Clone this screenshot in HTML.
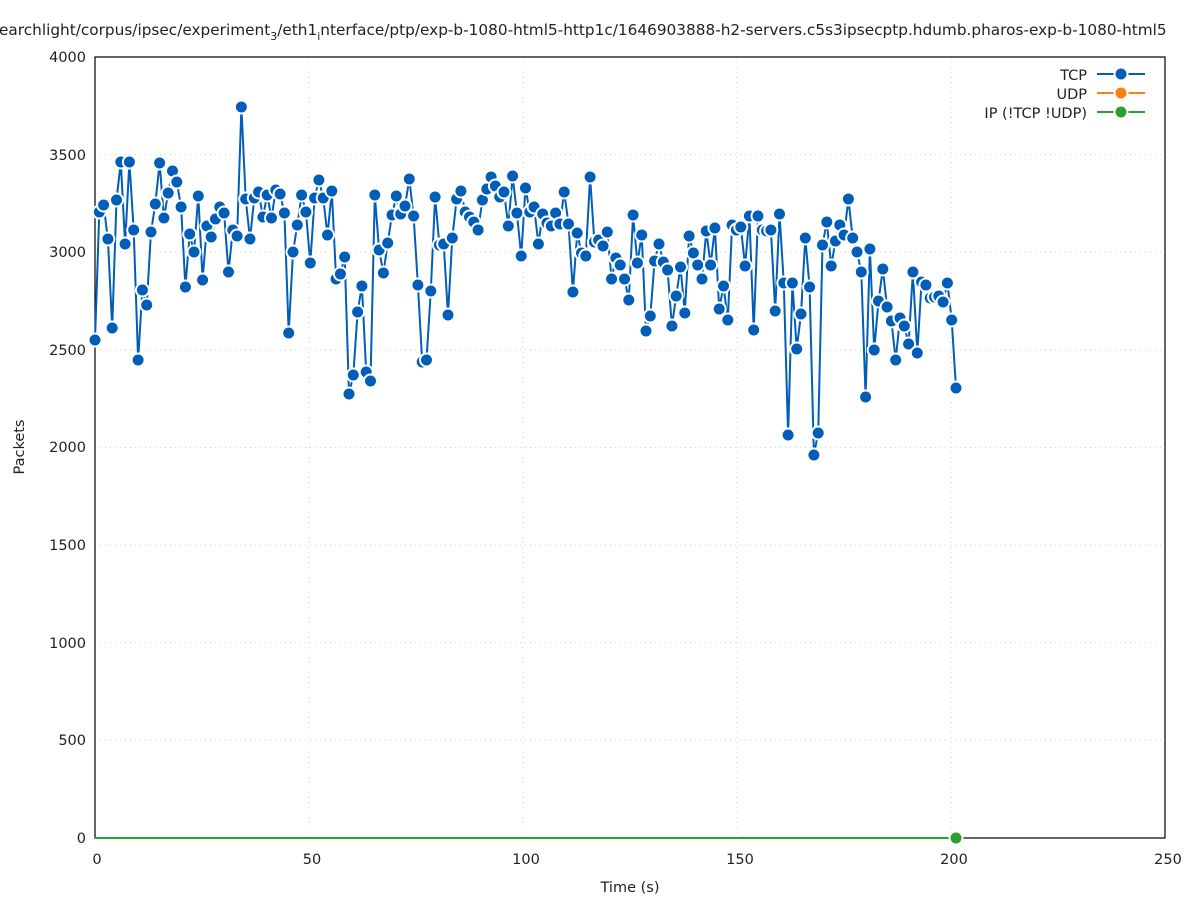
<!DOCTYPE html>
<html><head><meta charset="utf-8"><style>
body{margin:0;background:#fff;width:1197px;height:900px;overflow:hidden}
svg text{font-family:"DejaVu Sans","Liberation Sans",sans-serif;font-size:14.5px;fill:#222}
</style></head><body>
<svg id="s" width="1197" height="900" viewBox="0 0 1197 900" xmlns="http://www.w3.org/2000/svg">
<g stroke="#d0d0d0" stroke-dasharray="1,4" stroke-width="1">
<line x1="309" y1="57" x2="309" y2="838"/><line x1="523" y1="57" x2="523" y2="838"/><line x1="737" y1="57" x2="737" y2="838"/><line x1="951" y1="57" x2="951" y2="838"/>
<line x1="95" y1="740.4" x2="1165" y2="740.4"/><line x1="95" y1="642.8" x2="1165" y2="642.8"/><line x1="95" y1="545.1" x2="1165" y2="545.1"/><line x1="95" y1="447.5" x2="1165" y2="447.5"/><line x1="95" y1="349.9" x2="1165" y2="349.9"/><line x1="95" y1="252.3" x2="1165" y2="252.3"/><line x1="95" y1="154.6" x2="1165" y2="154.6"/>
</g>
<rect x="95" y="57" width="1070" height="781" fill="none" stroke="#000" stroke-width="1.2"/>
<g text-anchor="end">
<text x="86" y="843">0</text><text x="86" y="745">500</text><text x="86" y="648">1000</text><text x="86" y="550">1500</text><text x="86" y="452">2000</text><text x="86" y="355">2500</text><text x="86" y="257">3000</text><text x="86" y="160">3500</text><text x="86" y="62">4000</text>
</g>
<g text-anchor="middle">
<text x="97" y="864">0</text><text x="312" y="864">50</text><text x="526" y="864">100</text><text x="740" y="864">150</text><text x="954" y="864">200</text><text x="1168" y="864">250</text>
<text x="630" y="892">Time (s)</text>
</g>
<text x="24" y="447" text-anchor="middle" transform="rotate(-90 24 447)">Packets</text>
<text x="-9" y="35" style="font-size:15.3px">searchlight/corpus/ipsec/experiment<tspan font-size="11" dy="5">3</tspan><tspan dy="-5">/eth1</tspan><tspan font-size="11" dy="5">i</tspan><tspan dy="-5">nterface/ptp/exp-b-1080-html5-http1c/1646903888-h2-servers.c5s3ipsecptp.hdumb.pharos-exp-b-1080-html5</tspan></text>
<g text-anchor="end"><text x="1087" y="80">TCP</text><text x="1087" y="99">UDP</text><text x="1087" y="118">IP (!TCP  !UDP)</text></g>
<g stroke-width="2">
<line x1="1097" y1="74" x2="1145" y2="74" stroke="#005eb8"/><line x1="1097" y1="93" x2="1145" y2="93" stroke="#ff7f0e"/><line x1="1097" y1="112" x2="1145" y2="112" stroke="#2ca02c"/>
</g>
<g stroke="#fff" stroke-width="2">
<circle cx="1121" cy="74" r="6.5" fill="#005eb8"/><circle cx="1121" cy="93" r="6.5" fill="#ff7f0e"/><circle cx="1121" cy="112" r="6.5" fill="#2ca02c"/>
</g>
<line x1="95" y1="838" x2="956" y2="838" stroke="#ff7f0e" stroke-width="2"/>
<line x1="95" y1="838" x2="956" y2="838" stroke="#2ca02c" stroke-width="2"/>
<g id="tcp"></g>
<circle cx="956" cy="838" r="6.5" fill="#2ca02c" stroke="#fff" stroke-width="2"/>
</svg>
<script>
var y=[340,212,205,239,328,200,162,244,162,230,360,290,305,232,204,163,218,193,171,182,207,287,234,252,196,280,226,237,219,207,213,272,230,236,107,199,239,198,192,217,195,218,190,194,213,333,252,225,195,212,263,198,180,198,235,191,279,274,257,394,375,312,286,372,381,195,250,273,243,215,196,214,206,179,216,285,362,360,291,197,245,244,315,238,199,191,212,217,222,230,200,189,177,186,197,192,226,176,213,256,188,212,207,244,214,223,226,213,224,192,224,292,233,253,256,177,242,240,246,232,279,258,265,279,300,215,263,235,331,316,261,244,262,270,326,296,267,313,236,253,265,279,231,265,228,309,286,320,225,230,227,266,216,330,216,230,231,230,311,214,283,435,283,349,314,238,287,455,433,245,222,266,241,225,235,199,238,252,272,397,249,350,301,269,307,321,360,318,326,344,272,353,282,285,298,297,296,302,283,320,388];
var g=document.getElementById('tcp'),ns='http://www.w3.org/2000/svg',pts=[],dx=(956-95)/200;
for(var i=0;i<y.length;i++)pts.push((95+dx*i).toFixed(1)+','+y[i]);
var pl=document.createElementNS(ns,'polyline');pl.setAttribute('points',pts.join(' '));pl.setAttribute('fill','none');pl.setAttribute('stroke','#005eb8');pl.setAttribute('stroke-width','2');g.appendChild(pl);
for(var i=0;i<y.length;i++){var c=document.createElementNS(ns,'circle');c.setAttribute('cx',(95+dx*i).toFixed(1));c.setAttribute('cy',y[i]);c.setAttribute('r','6.5');c.setAttribute('fill','#005eb8');c.setAttribute('stroke','#fff');c.setAttribute('stroke-width','2');g.appendChild(c);}
</script>
</body></html>
